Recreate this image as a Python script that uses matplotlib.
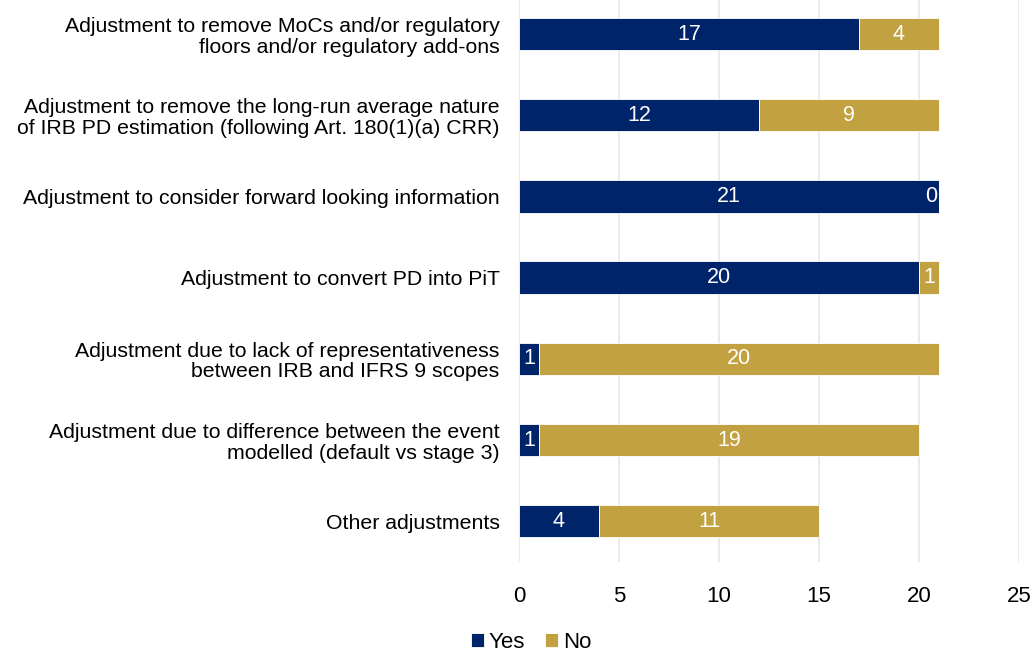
import numpy as np
import matplotlib.pyplot as plt

plt.rcParams['font.family'] = ['Liberation Sans', 'DejaVu Sans']

categories = [
    "Adjustment to remove MoCs and/or regulatory\nfloors and/or regulatory add-ons",
    "Adjustment to remove the long-run average nature\nof IRB PD estimation (following Art. 180(1)(a) CRR)",
    "Adjustment to consider forward looking information",
    "Adjustment to convert PD into PiT",
    "Adjustment due to lack of representativeness\nbetween IRB and IFRS 9 scopes",
    "Adjustment due to difference between the event\nmodelled (default vs stage 3)",
    "Other adjustments",
]
yes_vals = [17, 12, 21, 20, 1, 1, 4]
no_vals = [4, 9, 0, 1, 20, 19, 11]

navy = '#002469'
gold = '#C1A140'

fig = plt.figure(figsize=(10.35, 6.53), dpi=100)
ax = fig.add_axes([0.5014, 0.139, 0.4831, 0.861])

y = np.arange(len(categories))
b1 = ax.barh(y, yes_vals, height=0.4, color=navy, edgecolor='white', linewidth=0.6, label='Yes', zorder=3)
b2 = ax.barh(y, no_vals, left=yes_vals, height=0.4, color=gold, edgecolor='white', linewidth=0.6, label='No', zorder=3)

# value labels centred in each segment
for i in range(len(categories)):
    ax.text(yes_vals[i] / 2, y[i], str(yes_vals[i]), ha='center', va='center',
            color='white', fontsize=15.5, zorder=4)
    if no_vals[i] == 0:
        ax.text(yes_vals[i] - 0.1, y[i], '0', ha='right', va='center',
                color='white', fontsize=15.5, zorder=4)
    else:
        ax.text(yes_vals[i] + no_vals[i] / 2, y[i], str(no_vals[i]), ha='center',
                va='center', color='white', fontsize=15.5, zorder=4)

ax.set_xlim(0, 25)
ax.set_ylim(6.505, -0.419)
ax.set_xticks([0, 5, 10, 15, 20, 25])
ax.set_yticks(y)
ax.set_yticklabels(categories, fontsize=15.3, linespacing=1.1)
ax.tick_params(axis='x', labelsize=16, length=0, pad=17)
ax.tick_params(axis='y', length=0, pad=14)
ax.xaxis.grid(True, color='#E6E6E6', linewidth=1.2, zorder=0)
for s in ax.spines.values():
    s.set_visible(False)

fig.legend(handles=[b1, b2], labels=['Yes', 'No'], loc='center', bbox_to_anchor=(0.513, 0.016),
           ncol=2, frameon=False, fontsize=16, handlelength=0.6, handleheight=0.6,
           handletextpad=0.2, columnspacing=0.9)

fig.savefig('out.png', dpi=100)
